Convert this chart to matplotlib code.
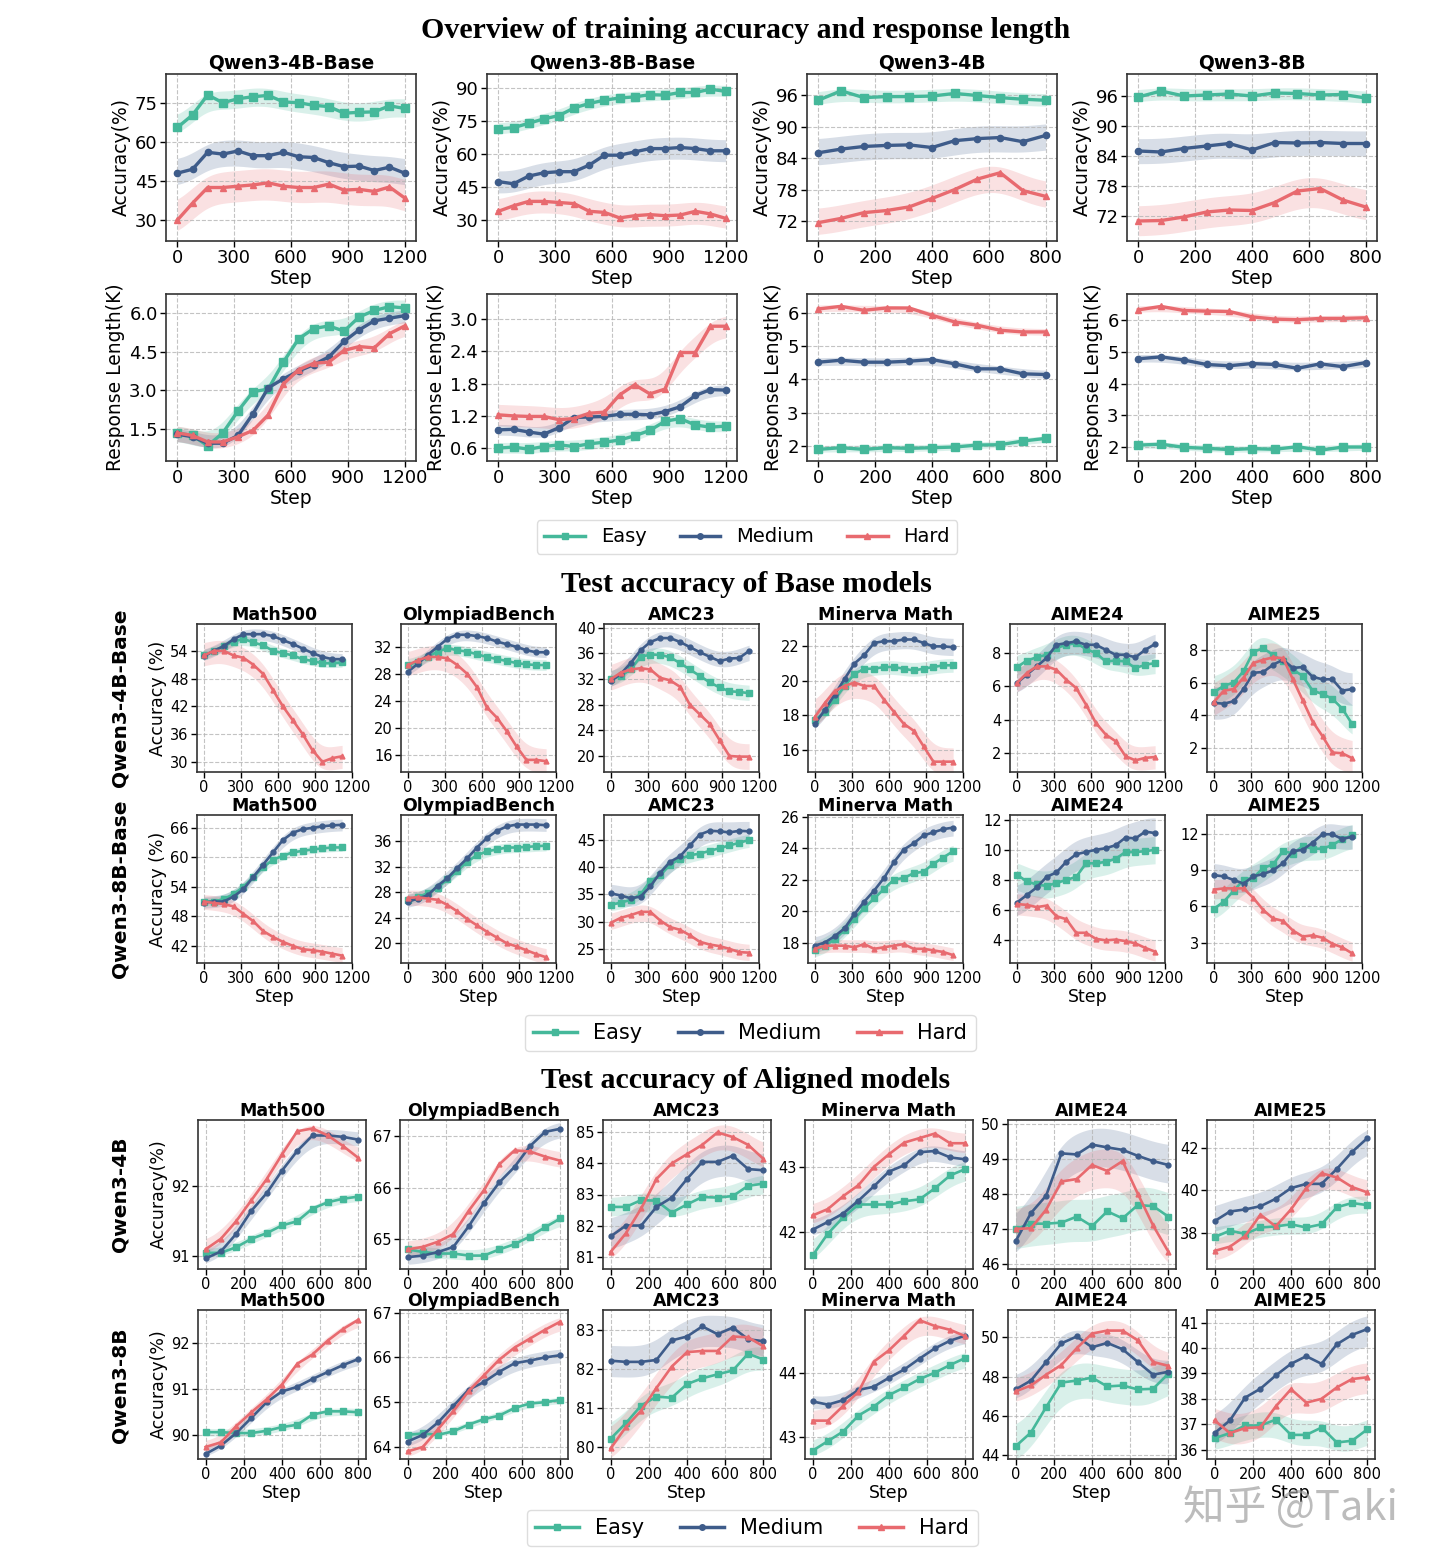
import numpy as np
import matplotlib
matplotlib.use("Agg")
import matplotlib.pyplot as plt
from matplotlib.lines import Line2D

W, H = 1440, 1567

COLORS = ['#45b89a', '#3e5c8a', '#e86a6f']
MARKERS = ['s', 'o', '^']
LEVELS = ['Easy', 'Medium', 'Hard']

steps_long = list(range(0, 1201, 80))
steps_short = list(range(0, 801, 80))
steps_test = list(range(0, 1121, 80))

# ---- overview: training accuracy [easy, medium, hard]
acc_4b_base = [
    [65.5, 70.3, 78, 75, 76.5, 77.3, 77.8, 75.3, 75, 74, 73.5, 71, 71.3, 71.5, 73.8, 72.8],
    [48, 49.5, 56, 55.3, 56.5, 54.7, 54.7, 56, 54.3, 54, 52, 50.5, 50.7, 49, 50.3, 48],
    [30, 36.5, 42.5, 42.5, 43, 43.5, 44.3, 43, 42.5, 42.5, 43.8, 41.5, 41.8, 41, 42.7, 38.5],
]
acc_8b_base = [
    [71.5, 72, 74, 76, 77.5, 81, 83, 84.5, 85.5, 86, 87, 86.8, 88, 88, 89.5, 88.5],
    [47.5, 46.5, 50, 51.5, 52, 52, 55, 59.5, 59.5, 61, 62.5, 62.5, 63, 62.5, 61.5, 61.5],
    [34, 36.5, 38.5, 38.5, 38, 37.5, 34, 33.5, 31, 32, 32.5, 32, 32.3, 34, 32.8, 30.8],
]
acc_4b = [
    [95, 96.8, 95.5, 95.7, 95.7, 95.8, 96.3, 95.9, 95.5, 95.2, 95],
    [85, 85.7, 86.2, 86.4, 86.5, 86, 87.3, 87.7, 87.9, 87.1, 88.3],
    [71.7, 72.5, 73.6, 74, 74.7, 76.3, 78, 80, 81.2, 77.8, 76.7],
]
acc_8b = [
    [95.8, 97, 96, 96.2, 96.4, 96, 96.6, 96.5, 96.2, 96.3, 95.6],
    [85, 84.8, 85.5, 86, 86.5, 85.2, 86.7, 86.6, 86.7, 86.5, 86.5],
    [71, 71.1, 71.8, 72.8, 73.2, 73.1, 74.7, 77, 77.5, 75.2, 73.8],
]

# ---- overview: response length (K)
len_4b_base = [
    [1.35, 1.25, 0.85, 1.35, 2.2, 2.95, 3.05, 4.1, 5.0, 5.4, 5.5, 5.3, 5.85, 6.1, 6.25, 6.2],
    [1.3, 1.2, 0.95, 0.95, 1.25, 2.1, 3.1, 3.45, 3.75, 4.0, 4.3, 4.9, 5.35, 5.7, 5.8, 5.9],
    [1.35, 1.25, 1.0, 1.0, 1.2, 1.45, 2.05, 3.25, 3.8, 4.05, 4.1, 4.55, 4.7, 4.65, 5.2, 5.5],
]
len_8b_base = [
    [0.6, 0.62, 0.58, 0.63, 0.66, 0.63, 0.68, 0.71, 0.75, 0.83, 0.93, 1.1, 1.15, 1.03, 0.99, 1.01],
    [0.94, 0.95, 0.9, 0.86, 0.98, 1.17, 1.18, 1.19, 1.23, 1.23, 1.22, 1.28, 1.37, 1.58, 1.69, 1.68],
    [1.22, 1.2, 1.19, 1.19, 1.13, 1.15, 1.25, 1.27, 1.59, 1.78, 1.61, 1.7, 2.38, 2.38, 2.87, 2.87],
]
len_4b = [
    [1.9, 1.95, 1.9, 1.95, 1.93, 1.95, 1.97, 2.03, 2.04, 2.15, 2.23],
    [4.52, 4.58, 4.52, 4.52, 4.55, 4.6, 4.47, 4.32, 4.32, 4.17, 4.15],
    [6.12, 6.2, 6.08, 6.15, 6.15, 5.93, 5.73, 5.63, 5.48, 5.43, 5.43],
]
len_8b = [
    [2.06, 2.09, 1.99, 1.96, 1.92, 1.95, 1.93, 2.01, 1.9, 2.0, 2.0],
    [4.78, 4.84, 4.74, 4.6, 4.56, 4.63, 4.6, 4.48, 4.62, 4.53, 4.66],
    [6.32, 6.43, 6.3, 6.28, 6.27, 6.1, 6.03, 6.01, 6.05, 6.05, 6.07],
]

# ---- test accuracy, base models
b4_math500 = [
    [53, 54, 55, 56, 56.6, 55.8, 55.2, 54, 53.5, 53, 52.2, 51.8, 51.3, 51.3, 51.5],
    [52.8, 54, 55, 56.5, 57.6, 57.6, 57.6, 57.2, 56.3, 55.5, 54.5, 53.5, 52.7, 52.2, 52.2],
    [53, 54, 54, 53, 52.5, 51, 49, 45.5, 42, 39, 36, 32.5, 30, 30.8, 31.2],
]
b4_olymp = [
    [29.3, 29.8, 30.5, 31.3, 31.8, 31.5, 31.3, 30.9, 30.5, 30.2, 29.9, 29.6, 29.4, 29.3, 29.3],
    [28.3, 29.5, 30.8, 32, 33.2, 33.8, 33.8, 33.6, 33.3, 32.8, 32.4, 32, 31.5, 31.2, 31.2],
    [29.3, 30, 30.5, 30.5, 30.3, 29.3, 28, 26, 23, 21.5, 19.5, 17.2, 15.2, 15.2, 15],
]
b4_amc = [
    [32, 32.5, 33.5, 35.5, 35.8, 35.8, 35.4, 34.5, 33.5, 32.5, 31.5, 30.7, 30.1, 30, 29.8],
    [31.7, 32.8, 34.5, 36.5, 37.8, 38.4, 38.4, 37.8, 37, 36.2, 35.5, 34.8, 35.2, 35.3, 36.4],
    [32, 33, 33.5, 33.7, 33.5, 32.2, 31.8, 30.8, 28, 26.5, 25, 22.5, 20, 19.9, 19.9],
]
b4_minerva = [
    [17.7, 18.2, 18.9, 19.7, 20.4, 20.7, 20.7, 20.8, 20.8, 20.7, 20.6, 20.7, 20.8, 20.9, 20.9],
    [17.5, 18.3, 19.2, 20.1, 21, 21.5, 22.2, 22.3, 22.3, 22.4, 22.4, 22.2, 22, 22, 21.95],
    [17.9, 18.7, 19.4, 19.7, 19.9, 19.7, 19.7, 18.9, 18.2, 17.5, 17.1, 16.2, 15.3, 15.3, 15.3],
]
b4_aime24 = [
    [7.15, 7.55, 7.75, 7.9, 8.3, 8.5, 8.6, 8.25, 8.0, 7.5, 7.55, 7.5, 7.1, 7.3, 7.4],
    [6.2, 6.7, 7.2, 7.7, 8.5, 8.6, 8.7, 8.5, 8.5, 8.2, 7.9, 7.9, 7.75, 8.2, 8.55],
    [6.2, 6.8, 7.2, 7.2, 7.0, 6.4, 5.9, 4.9, 3.8, 3.1, 2.7, 1.8, 1.55, 1.7, 1.75],
]
b4_aime25 = [
    [5.4, 5.8, 6.0, 6.7, 7.9, 8.1, 7.7, 7.3, 6.8, 6.4, 5.5, 5.3, 5.0, 4.4, 3.45],
    [4.75, 4.7, 4.85, 5.6, 6.6, 6.65, 7.1, 7.4, 6.9, 6.95, 6.35, 6.2, 6.2, 5.5, 5.6],
    [4.8, 5.5, 5.6, 6.3, 7.2, 7.4, 7.55, 7.5, 6.2, 4.9, 3.6, 2.7, 1.7, 1.65, 1.35],
]
b8_math500 = [
    [51, 51, 51.5, 52.5, 54, 56, 58, 59.5, 60.3, 61, 61.3, 61.6, 61.8, 62, 62],
    [50.8, 51, 51, 52, 53.5, 56, 58.5, 61, 63.5, 65, 65.7, 66, 66.3, 66.5, 66.6],
    [51, 50.7, 50.5, 50, 48.5, 47, 45, 43.8, 42.8, 42, 41.3, 41.1, 40.8, 40.4, 40],
]
b8_olymp = [
    [26.8, 27.3, 27.8, 28.7, 30, 31.3, 32.8, 33.8, 34.4, 34.7, 35, 35, 35.1, 35.2, 35.3],
    [26.5, 27, 27.5, 29, 30.2, 31.8, 33.3, 35, 36.5, 37.6, 38.3, 38.6, 38.6, 38.6, 38.5],
    [27.1, 27.2, 27, 26.8, 26, 25, 23.8, 22.8, 21.8, 20.9, 20, 19.5, 18.9, 18.3, 17.8],
]
b8_amc = [
    [33.1, 33.5, 34, 35, 37.5, 38.5, 40.5, 41.5, 42.2, 42.5, 43, 43.5, 44, 44.5, 45],
    [35.2, 34.8, 34.3, 34.6, 36.5, 39, 41, 42, 44, 46, 46.7, 46.6, 46.4, 46.7, 46.6],
    [29.8, 30.7, 31.2, 31.8, 31.8, 30.2, 29, 28.5, 27.5, 26.3, 25.8, 25.5, 25, 24.4, 24.3],
]
b8_minerva = [
    [17.5, 17.8, 18.2, 18.8, 19.5, 20.2, 20.8, 21.4, 22, 22.1, 22.4, 22.5, 23, 23.4, 23.8],
    [17.8, 18, 18.4, 18.9, 19.8, 20.6, 21.3, 22.1, 23.1, 23.9, 24.3, 24.8, 25, 25.2, 25.3],
    [17.6, 17.8, 17.8, 17.8, 17.7, 17.9, 17.6, 17.7, 17.8, 17.9, 17.6, 17.6, 17.5, 17.4, 17.2],
]
b8_aime24 = [
    [8.35, 7.9, 7.7, 7.6, 7.8, 8.0, 8.2, 9.1, 9.1, 9.2, 9.4, 9.85, 9.85, 9.9, 10.0],
    [6.5, 7, 7.5, 8.2, 8.5, 9.2, 9.7, 9.85, 10, 10.1, 10.3, 10.8, 10.75, 11.2, 11.1],
    [6.4, 6.35, 6.2, 6.3, 5.6, 5.4, 4.5, 4.5, 4.1, 4.0, 4.05, 3.95, 3.8, 3.5, 3.25],
]
b8_aime25 = [
    [5.8, 6.4, 7.3, 8.2, 8.4, 9.2, 9.5, 10.6, 10.4, 11.0, 10.8, 10.8, 11.1, 11.6, 11.9],
    [8.6, 8.5, 8.2, 7.9, 8.5, 8.7, 9.0, 9.6, 10.6, 10.7, 11.3, 12.0, 12.0, 11.6, 11.8],
    [7.4, 7.5, 7.5, 7.5, 6.7, 5.7, 5.0, 4.8, 4.0, 3.5, 3.6, 3.4, 2.9, 2.6, 2.1],
]

# ---- test accuracy, aligned models
a4_math500 = [
    [91.05, 91.05, 91.13, 91.25, 91.33, 91.44, 91.5, 91.68, 91.77, 91.82, 91.85],
    [90.97, 91.07, 91.32, 91.65, 91.9, 92.22, 92.5, 92.72, 92.72, 92.7, 92.66],
    [91.1, 91.25, 91.5, 91.8, 92.1, 92.45, 92.78, 92.82, 92.72, 92.57, 92.4],
]
a4_olymp = [
    [64.8, 64.75, 64.72, 64.72, 64.68, 64.68, 64.8, 64.9, 65.05, 65.23, 65.4],
    [64.65, 64.68, 64.75, 64.85, 65.25, 65.7, 66.1, 66.4, 66.8, 67.08, 67.14],
    [64.8, 64.85, 64.95, 65.1, 65.55, 65.95, 66.45, 66.72, 66.7, 66.6, 66.52],
]
a4_amc = [
    [82.6, 82.6, 82.82, 82.8, 82.42, 82.68, 82.92, 82.9, 82.95, 83.28, 83.35],
    [81.65, 82.0, 82.0, 82.6, 82.9, 83.5, 84.05, 84.05, 84.25, 83.82, 83.78],
    [81.15, 81.75, 82.55, 83.5, 84.0, 84.3, 84.6, 85.0, 84.85, 84.6, 84.15],
]
a4_minerva = [
    [41.63, 41.97, 42.22, 42.42, 42.42, 42.42, 42.47, 42.5, 42.67, 42.87, 42.97],
    [42.03, 42.15, 42.28, 42.48, 42.7, 42.93, 43.03, 43.23, 43.25, 43.15, 43.12],
    [42.25, 42.35, 42.55, 42.72, 43.0, 43.2, 43.38, 43.45, 43.52, 43.37, 43.37],
]
a4_aime24 = [
    [47.0, 47.15, 47.15, 47.18, 47.35, 47.08, 47.5, 47.3, 47.68, 47.65, 47.35],
    [46.65, 47.45, 47.95, 49.15, 49.12, 49.4, 49.32, 49.25, 49.08, 48.93, 48.82],
    [47.0, 47.02, 47.55, 48.35, 48.42, 48.82, 48.65, 48.93, 48.0, 47.1, 46.35],
]
a4_aime25 = [
    [37.8, 38.1, 37.95, 38.25, 38.3, 38.4, 38.25, 38.4, 39.2, 39.4, 39.3],
    [38.55, 39.0, 39.1, 39.25, 39.6, 40.1, 40.3, 40.3, 41.0, 41.8, 42.45],
    [37.15, 37.35, 37.85, 38.85, 38.3, 39.1, 40.1, 40.8, 40.6, 40.15, 39.9],
]
a8_math500 = [
    [90.07, 90.07, 90.05, 90.05, 90.1, 90.18, 90.23, 90.45, 90.52, 90.52, 90.5],
    [89.6, 89.78, 90.05, 90.38, 90.72, 90.95, 91.05, 91.22, 91.37, 91.52, 91.65],
    [89.75, 89.85, 90.2, 90.5, 90.78, 91.1, 91.55, 91.75, 92.05, 92.3, 92.5],
]
a8_olymp = [
    [64.27, 64.3, 64.27, 64.35, 64.5, 64.62, 64.7, 64.87, 64.97, 65.0, 65.05],
    [64.12, 64.27, 64.55, 64.92, 65.28, 65.45, 65.68, 65.87, 65.93, 66.0, 66.05],
    [63.9, 64.0, 64.4, 64.8, 65.25, 65.6, 65.95, 66.22, 66.42, 66.62, 66.8],
]
a8_amc = [
    [80.2, 80.6, 81.05, 81.28, 81.25, 81.6, 81.75, 81.85, 81.95, 82.38, 82.23],
    [82.2, 82.17, 82.17, 82.22, 82.72, 82.82, 83.08, 82.88, 83.05, 82.75, 82.7],
    [79.95, 80.5, 80.92, 81.5, 82.05, 82.42, 82.45, 82.45, 82.82, 82.8, 82.57],
]
a8_minerva = [
    [42.78, 42.93, 43.08, 43.33, 43.47, 43.65, 43.77, 43.9, 44.0, 44.12, 44.23],
    [43.55, 43.5, 43.57, 43.73, 43.78, 43.92, 44.05, 44.22, 44.38, 44.5, 44.58],
    [43.25, 43.25, 43.48, 43.7, 44.17, 44.35, 44.58, 44.82, 44.73, 44.67, 44.57],
]
a8_aime24 = [
    [44.45, 45.15, 46.45, 47.7, 47.8, 47.95, 47.5, 47.55, 47.35, 47.38, 48.15],
    [47.35, 47.8, 48.75, 49.7, 50.05, 49.5, 49.72, 49.4, 48.75, 48.1, 48.25],
    [47.25, 47.55, 48.1, 48.6, 49.45, 50.2, 50.35, 50.35, 49.85, 48.75, 48.55],
]
a8_aime25 = [
    [36.45, 36.65, 36.95, 36.95, 37.18, 36.58, 36.58, 36.87, 36.28, 36.35, 36.8],
    [36.65, 37.15, 38.05, 38.4, 38.92, 39.38, 39.68, 39.38, 40.15, 40.52, 40.75],
    [37.15, 36.65, 36.85, 36.88, 37.7, 38.38, 37.85, 38.0, 38.45, 38.78, 38.85],
]

# shaded band half-widths [easy, medium, hard]
ovr_bands = [[3.5, 5, 6], [2.5, 5, 5], [1.2, 2.5, 2.5], [1.2, 2.5, 3],
             [0.3, 0.25, 0.3], [0.1, 0.1, 0.2], [0.1, 0.12, 0.1], [0.1, 0.12, 0.1]]
base_bands = [[1, 1.2, 2.5], [0.8, 0.8, 1.8], [1.2, 1.2, 2], [0.4, 0.5, 0.8], [0.6, 0.7, 0.7], [0.9, 1.0, 1.0],
              [0.8, 1.2, 1.5], [0.8, 1.0, 1.2], [1.2, 1.8, 1.5], [0.5, 0.5, 0.4], [0.9, 1.0, 0.7], [1.0, 1.0, 0.8]]
align_bands = [[0.06, 0.1, 0.1], [0.1, 0.15, 0.15], [0.3, 0.5, 0.4], [0.15, 0.12, 0.15], [0.6, 0.55, 0.55], [0.4, 0.6, 0.5],
               [0.08, 0.1, 0.1], [0.07, 0.15, 0.15], [0.3, 0.4, 0.4], [0.12, 0.1, 0.15], [0.9, 0.6, 0.6], [0.5, 0.6, 0.6]]

bench_names = ['Math500', 'OlympiadBench', 'AMC23', 'Minerva Math', 'AIME24', 'AIME25']


def fx(x):
    return x / W


def fy(y):
    return 1 - y / H


def new_ax(fig, left, top, width, height):
    return fig.add_axes([left / W, 1 - (top + height) / H, width / W, height / H])


def smooth_band(x, y, w):
    x = np.asarray(x, float)
    xf = np.linspace(x[0], x[-1], int((x[-1] - x[0]) / 5) + 1)
    yf = np.interp(xf, x, y)
    k = np.exp(-0.5 * (np.arange(-40, 41) / 13.0) ** 2)
    k /= k.sum()
    ys = np.convolve(np.pad(yf, 40, mode='edge'), k, mode='valid')
    return xf, ys - w, ys + w


def draw(ax, x, series, widths, lw, ms):
    for y, w, c, m, s in zip(series, widths, COLORS, MARKERS, ms):
        xf, lo, hi = smooth_band(x, y, w)
        ax.fill_between(xf, lo, hi, color=c, alpha=0.2, lw=0)
        ax.plot(x, y, color=c, marker=m, lw=lw, ms=s)


def style(ax, fs):
    ax.grid(True, ls='--', color='#b5b5b5', lw=0.8, alpha=0.8)
    ax.tick_params(labelsize=fs, length=4, width=1, pad=2)
    for sp in ax.spines.values():
        sp.set_color('#333333')
        sp.set_linewidth(1.2)


def legend(fig, cx, cy, fs):
    handles = [Line2D([], [], color=c, marker=m, lw=2.5, ms=4) for c, m in zip(COLORS, MARKERS)]
    fig.legend(handles, LEVELS, loc='center', bbox_to_anchor=(fx(cx), fy(cy)), ncol=3,
               fontsize=fs, handlelength=2.1, columnspacing=1.7, framealpha=1, edgecolor='#dddddd')


fig = plt.figure(figsize=(W / 100, H / 100), dpi=100)
serif = dict(family='Liberation Serif', fontweight='bold', fontsize=21.5, ha='center', va='center')

# ---------------- Section 1: overview ----------------
fig.text(fx(746), fy(31), 'Overview of training accuracy and response length', **serif)

ovr_titles = ['Qwen3-4B-Base', 'Qwen3-8B-Base', 'Qwen3-4B', 'Qwen3-8B']
ovr_data = [acc_4b_base, acc_8b_base, acc_4b, acc_8b, len_4b_base, len_8b_base, len_4b, len_8b]
ovr_x = [steps_long, steps_long, steps_short, steps_short] * 2
ovr_xticks = [[0, 300, 600, 900, 1200]] * 2 + [[0, 200, 400, 600, 800]] * 2
ovr_yticks = [[30, 45, 60, 75], [30, 45, 60, 75, 90], [72, 78, 84, 90, 96], [72, 78, 84, 90, 96],
              [1.5, 3.0, 4.5, 6.0], [0.6, 1.2, 1.8, 2.4, 3.0], [2, 3, 4, 5, 6], [2, 3, 4, 5, 6]]
ovr_ylims = [(22, 86), (20.5, 96.4), (68.2, 100), (67, 100.4),
             (0.26, 6.74), (0.36, 3.47), (1.55, 6.57), (1.56, 6.82)]
ovr_left = [166, 487, 807, 1127]
ovr_top = [74, 294]

for i in range(8):
    r, c = divmod(i, 4)
    ax = new_ax(fig, ovr_left[c], ovr_top[r], 250, 167)
    draw(ax, ovr_x[i], ovr_data[i], ovr_bands[i], 2.4, [5.5, 4.5, 5])
    style(ax, 13)
    ax.set_xticks(ovr_xticks[c])
    ax.set_yticks(ovr_yticks[i])
    ax.set_ylim(ovr_ylims[i])
    if i in (4, 5):
        ax.set_yticklabels(['%.1f' % t for t in ovr_yticks[i]])
    ax.set_xlabel('Step', fontsize=13.5, labelpad=1)
    ax.set_ylabel('Accuracy(%)' if r == 0 else 'Response Length(K)', fontsize=13.5, labelpad=3)
    if r == 0:
        ax.set_title(ovr_titles[c], fontsize=13.5, fontweight='bold', pad=4)

legend(fig, 747, 537, 14)

# ---------------- Section 2: base models ----------------
fig.text(fx(746), fy(584), 'Test accuracy of Base models', **serif)

base_data = [b4_math500, b4_olymp, b4_amc, b4_minerva, b4_aime24, b4_aime25,
             b8_math500, b8_olymp, b8_amc, b8_minerva, b8_aime24, b8_aime25]
base_yticks = [[30, 36, 42, 48, 54], [16, 20, 24, 28, 32], [20, 24, 28, 32, 36, 40], [16, 18, 20, 22], [2, 4, 6, 8], [2, 4, 6, 8],
               [42, 48, 54, 60, 66], [20, 24, 28, 32, 36], [25, 30, 35, 40, 45], [18, 20, 22, 24, 26], [4, 6, 8, 10, 12], [3, 6, 9, 12]]
base_ylims = [(27.8, 59.8), (13.4, 35.4), (17.5, 40.6), (14.7, 23.3), (0.85, 9.75), (0.5, 9.6),
              (38.5, 68.6), (16.9, 40.1), (22.4, 49.6), (16.7, 26.1), (2.5, 12.3), (1.3, 13.6)]
base_left = [197, 401, 604, 808, 1010, 1207]
base_top = [624, 815]

for i in range(12):
    r, c = divmod(i, 6)
    ax = new_ax(fig, base_left[c], base_top[r], 155, 148)
    draw(ax, steps_test, base_data[i], base_bands[i], 1.9, [4, 3.5, 3.5])
    style(ax, 10.5)
    ax.set_xticks([0, 300, 600, 900, 1200])
    ax.set_xlim(-56, 1200)
    ax.set_yticks(base_yticks[i])
    ax.set_ylim(base_ylims[i])
    ax.set_title(bench_names[c], fontsize=12.5, fontweight='bold', pad=3)
    if c == 0:
        ax.set_ylabel('Accuracy (%)', fontsize=12.5, labelpad=2)
    if r == 1:
        ax.set_xlabel('Step', fontsize=12.5, labelpad=1)

fig.text(fx(120), fy(698), 'Qwen3-4B-Base', rotation=90, fontsize=14.5, fontweight='bold', ha='center', va='center')
fig.text(fx(120), fy(889), 'Qwen3-8B-Base', rotation=90, fontsize=14.5, fontweight='bold', ha='center', va='center')
legend(fig, 750, 1033, 15)

# ---------------- Section 3: aligned models ----------------
fig.text(fx(746), fy(1080), 'Test accuracy of Aligned models', **serif)

align_data = [a4_math500, a4_olymp, a4_amc, a4_minerva, a4_aime24, a4_aime25,
              a8_math500, a8_olymp, a8_amc, a8_minerva, a8_aime24, a8_aime25]
align_yticks = [[91, 92], [65, 66, 67], [81, 82, 83, 84, 85], [42, 43], [46, 47, 48, 49, 50], [38, 40, 42],
                [90, 91, 92], [64, 65, 66, 67], [80, 81, 82, 83], [43, 44], [44, 46, 48, 50], [36, 37, 38, 39, 40, 41]]
align_ylims = [(90.82, 92.94), (64.42, 67.31), (80.6, 85.4), (41.42, 43.73), (45.86, 50.1), (36.3, 43.3),
               (89.49, 92.71), (63.73, 67.06), (79.68, 83.5), (42.65, 44.98), (43.8, 51.4), (35.63, 41.5)]
align_left = [198, 400, 603, 805, 1008, 1207]
align_top = [1120, 1310]

for i in range(12):
    r, c = divmod(i, 6)
    ax = new_ax(fig, align_left[c], align_top[r], 168, 149)
    draw(ax, steps_short, align_data[i], align_bands[i], 1.9, [4, 3.5, 3.5])
    style(ax, 10.5)
    ax.set_xticks([0, 200, 400, 600, 800])
    ax.set_yticks(align_yticks[i])
    ax.set_ylim(align_ylims[i])
    ax.set_title(bench_names[c], fontsize=12.5, fontweight='bold', pad=3)
    if c == 0:
        ax.set_ylabel('Accuracy(%)', fontsize=12.5, labelpad=2)
    if r == 1:
        ax.set_xlabel('Step', fontsize=12.5, labelpad=1)

fig.text(fx(120), fy(1194), 'Qwen3-4B', rotation=90, fontsize=14.5, fontweight='bold', ha='center', va='center')
fig.text(fx(120), fy(1385), 'Qwen3-8B', rotation=90, fontsize=14.5, fontweight='bold', ha='center', va='center')
legend(fig, 752, 1528, 15)

# watermark
fig.text(fx(1290), fy(1508), '知乎 @Taki', family=['Noto Sans CJK SC', 'DejaVu Sans'],
         fontsize=30, color='#a0a0a0', alpha=0.7, ha='center', va='center')

fig.savefig('out.png', dpi=100, facecolor='white')
